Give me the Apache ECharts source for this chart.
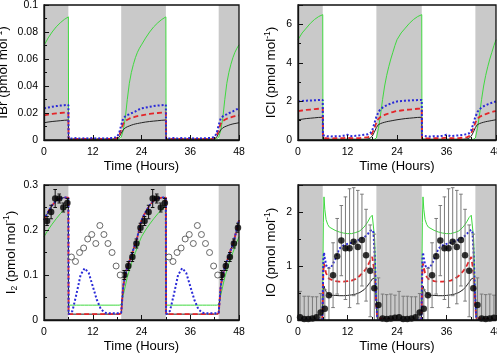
<!DOCTYPE html>
<html><head><meta charset="utf-8">
<script src="https://cdn.jsdelivr.net/npm/echarts@6/dist/echarts.min.js"></script>
<style>html,body{margin:0;padding:0;background:#fff}#c{width:497px;height:355px}</style>
</head><body><div id="c"></div>
<script>
// ---------- shared ----------
const nightBands = [[0, 6], [19, 30], [43, 48]];
const xTicks = [0, 12, 24, 36, 48];

// one-day model profile hours (panels IBr, ICl, I2), repeated each day
const hoursA = [0,1,2,3,4,5,6,6.05,7,8,9,10,11,12,13,14,15,16,17,17.5,18,18.5,19,19.5,20,20.5,21,21.5,22,22.5,23,23.5,24];

// IBr
const ibrGreen = [0.070,0.0755,0.080,0.0838,0.0868,0.0893,0.0912, 0.0008, 0.0008,0.0008,0.0008,0.0008,0.0008,0.0008,0.0008,0.0008,0.0008,0.0008, 0.0008,0.0008,0.0008,0.001, 0.002,0.007,0.016,0.030,0.042,0.050,0.056,0.061,0.065,0.068,0.0705];
const ibrBlack = [0.0128,0.0133,0.0137,0.0140,0.0143,0.0146,0.0148, 0.0005, 0.0005,0.0005,0.0005,0.0005,0.0005,0.0005,0.0005,0.0005,0.0005,0.0005, 0.0005,0.0006,0.001,0.002, 0.005,0.0075,0.009,0.0098,0.0104,0.011,0.0115,0.0119,0.0122,0.0125,0.0128];
const ibrRed = [0.0182,0.0188,0.0193,0.0197,0.0200,0.0203,0.0205, 0.0008, 0.0008,0.0008,0.0008,0.0008,0.0008,0.0008,0.0008,0.0008,0.0008,0.0008, 0.0008,0.001,0.0015,0.003, 0.008,0.012,0.014,0.015,0.0158,0.0164,0.0168,0.0173,0.0177,0.018,0.0182];
const ibrBlue = [0.0235,0.024,0.0246,0.0251,0.0255,0.0258,0.026, 0.0012, 0.0012,0.0015,0.0010,0.0014,0.0011,0.0016,0.0010,0.0013,0.0011,0.0014, 0.0014,0.0018,0.0025,0.005, 0.011,0.016,0.0175,0.0185,0.019,0.0198,0.0205,0.0212,0.022,0.0228,0.0235];

// ICl
const iclGreen = [5.2,5.55,5.8,6.05,6.25,6.4,6.5, 0.03, 0.03,0.03,0.03,0.03,0.03,0.03,0.03,0.03,0.03,0.03, 0.03,0.03,0.03,0.04, 0.1,0.6,1.3,2.1,2.8,3.35,3.8,4.2,4.55,4.9,5.2];
const iclBlack = [1.05,1.08,1.11,1.13,1.15,1.17,1.18, 0.05, 0.04,0.04,0.04,0.04,0.04,0.04,0.04,0.04,0.04,0.04, 0.06,0.1,0.2,0.4, 0.65,0.8,0.85,0.89,0.92,0.95,0.97,0.99,1.01,1.03,1.05];
const iclRed = [1.5,1.53,1.56,1.58,1.6,1.62,1.64, 0.1, 0.09,0.08,0.1,0.09,0.1,0.12,0.09,0.1,0.1,0.12, 0.15,0.2,0.35,0.6, 0.9,1.1,1.2,1.25,1.3,1.34,1.38,1.42,1.45,1.48,1.5];
const iclBlue = [2.0,2.02,2.04,2.05,2.06,2.07,2.08, 0.25, 0.2,0.18,0.2,0.19,0.22,0.27,0.2,0.22,0.24,0.27, 0.3,0.35,0.5,0.85, 1.2,1.45,1.6,1.68,1.75,1.8,1.85,1.89,1.93,1.97,2.0];

// I2
const i2Green = [0.185,0.2,0.213,0.225,0.236,0.246,0.255, 0.033, 0.033,0.033,0.033,0.033,0.033,0.033,0.033,0.033,0.033,0.033, 0.033,0.033,0.033,0.033, 0.034,0.055,0.075,0.095,0.11,0.125,0.138,0.15,0.162,0.174,0.185];
const i2Black = [0.222,0.24,0.255,0.265,0.27,0.272,0.272, 0.013, 0.013,0.013,0.013,0.013,0.013,0.013,0.013,0.013,0.013,0.013, 0.013,0.013,0.013,0.013, 0.015,0.075,0.1,0.118,0.13,0.143,0.157,0.17,0.185,0.204,0.222];
const i2Red = [0.222,0.24,0.255,0.265,0.27,0.272,0.272, 0.013, 0.013,0.013,0.013,0.013,0.013,0.013,0.013,0.013,0.013,0.013, 0.013,0.013,0.013,0.013, 0.015,0.075,0.1,0.118,0.13,0.143,0.157,0.17,0.185,0.204,0.222];
const i2Blue = [0.222,0.24,0.255,0.265,0.27,0.272,0.272, 0.013, 0.02,0.058,0.1,0.115,0.105,0.075,0.045,0.024,0.016,0.015, 0.015,0.015,0.015,0.015, 0.016,0.075,0.1,0.118,0.13,0.143,0.157,0.17,0.185,0.204,0.222];
// I2 observations
const i2NightHours = [0.75,1.75,2.75,3.75,4.75,5.75,19.75,20.75,21.75,22.75,23.75];
const i2NightObs = [0.22,0.24,0.27,0.27,0.25,0.26,0.10,0.12,0.14,0.17,0.205];
const i2NightErr = [0.01,0.015,0.02,0.01,0.01,0.01,0.01,0.01,0.01,0.01,0.01];
const i2DayHours = [6.75,7.75,8.75,9.75,10.75,11.75,12.75,13.75,14.75,15.75,16.75,17.75,18.75];
const i2DayObs = [0.14,0.13,0.15,0.16,0.18,0.19,0.17,0.21,0.19,0.17,0.15,0.12,0.10];

// IO
const hoursB = [0,5.9,6.0,6.15,6.3,6.5,6.8,7.2,7.6,8,9,10,11,12,13,14,15,16,16.5,17,17.5,18,18.3,18.6,18.9,19.2,19.5,24];
const ioGreen = [0.005,0.005,0.6,1.8,2.28,2.05,1.86,1.77,1.72,1.7,1.66,1.63,1.61,1.6,1.6,1.62,1.65,1.72,1.77,1.83,1.9,1.94,1.92,1.5,0.6,0.1,0.01,0.005];
const ioBlack = [0.002,0.002,0.2,0.55,0.63,0.58,0.53,0.49,0.47,0.46,0.455,0.45,0.45,0.455,0.465,0.48,0.51,0.56,0.6,0.65,0.7,0.76,0.79,0.78,0.45,0.05,0.005,0.002];
const ioRed = [0.003,0.003,0.3,0.9,1.05,0.97,0.87,0.8,0.76,0.74,0.72,0.71,0.71,0.72,0.73,0.76,0.82,0.9,0.95,1.02,1.1,1.17,1.15,0.85,0.35,0.04,0.005,0.003];
const ioBlue = [0.005,0.005,0.4,1.1,1.25,1.15,1.02,0.96,0.94,0.97,1.12,1.32,1.38,1.41,1.43,1.46,1.49,1.53,1.56,1.6,1.65,1.67,1.62,1.2,0.5,0.06,0.01,0.005];
// IO observations
const ioHours = [0.5,1.5,2.5,3.5,4.5,5.5,6.5,7.5,8.5,9.5,10.5,11.5,12.5,13.5,14.5,15.5,16.5,17.5,18.5,19.5,20.5,21.5,22.5,23.5];
const ioObs = [0.05,0.02,0.02,0.03,0.05,0.14,0.21,0.46,0.83,1.18,1.47,1.33,1.33,1.45,1.35,1.48,1.2,0.91,0.59,0.28,0.03,0.02,0.03,0.04];
const ioErr = [0.48,0.42,0.42,0.4,0.38,0.35,0.35,0.5,0.6,0.7,0.65,0.95,1.1,1.0,1.05,0.85,0.85,0.85,1.0,0.5,0.45,0.45,0.45,0.42];

// ---------- helpers ----------
const GREEN = '#3fd83f', BLACK = '#222', RED = '#e3262a', BLUE = '#2a2ad8', BAND = '#c9c9c9';
const FONT = 'Liberation Sans, Arial, Helvetica, sans-serif';

function daily(hours, vals) {
  const out = [];
  for (const d of [0, 24]) for (let i = 0; i < hours.length; i++) {
    const t = hours[i] + d; if (t <= 48) out.push([t, vals[i]]);
  }
  return out;
}
function dailyErr(hours, vals, errs) {
  const out = [];
  for (const d of [0, 24]) for (let i = 0; i < hours.length; i++) {
    const t = hours[i] + d; if (t <= 48) out.push([t, vals[i], vals[i] - errs[i], vals[i] + errs[i]]);
  }
  return out;
}
function bandSeries(gi) {
  return {type: 'line', xAxisIndex: gi, yAxisIndex: gi, data: [], silent: true, z: 1,
    markArea: {silent: true, itemStyle: {color: BAND}, data: nightBands.map(b => [{xAxis: b[0]}, {xAxis: b[1]}])}};
}
function lineSet(gi, hours, g, k, r, b) {
  const base = {type: 'line', xAxisIndex: gi, yAxisIndex: gi, showSymbol: false, symbol: 'none', silent: true};
  return [
    Object.assign({}, base, {data: daily(hours, g), lineStyle: {color: GREEN, width: 1}, z: 3}),
    Object.assign({}, base, {data: daily(hours, k), lineStyle: {color: BLACK, width: 1}, z: 4}),
    Object.assign({}, base, {data: daily(hours, r), lineStyle: {color: RED, width: 1.8, type: [5, 3]}, z: 5}),
    Object.assign({}, base, {data: daily(hours, b), lineStyle: {color: BLUE, width: 2, type: [2, 2]}, z: 6})
  ];
}
function errSeries(gi, data, color) {
  return {type: 'custom', xAxisIndex: gi, yAxisIndex: gi, data: data, z: 7, silent: true, clip: true,
    encode: {x: 0, y: 1},
    renderItem: function (params, api) {
      const x = api.value(0), lo = Math.max(api.value(2), 0), hi = api.value(3);
      const p1 = api.coord([x, lo]), p2 = api.coord([x, hi]);
      const cw = 1.8, st = {stroke: color, lineWidth: 1};
      const ch = [
        {type: 'line', shape: {x1: p1[0], y1: p1[1], x2: p2[0], y2: p2[1]}, style: st},
        {type: 'line', shape: {x1: p2[0] - cw, y1: p2[1], x2: p2[0] + cw, y2: p2[1]}, style: st}
      ];
      if (api.value(2) > 0) ch.push({type: 'line', shape: {x1: p1[0] - cw, y1: p1[1], x2: p1[0] + cw, y2: p1[1]}, style: st});
      return {type: 'group', children: ch};
    }};
}
function xAx(gi) {
  return {gridIndex: gi, type: 'value', min: 0, max: 48, interval: 12, z: 10,
    axisLine: {show: true, lineStyle: {color: '#111', width: 1.3}},
    axisTick: {show: true, inside: true, length: 5, lineStyle: {color: '#111'}},
    minorTick: {show: true, splitNumber: 2, length: 3, lineStyle: {color: '#111'}},
    splitLine: {show: false},
    axisLabel: {color: '#000', fontSize: 10.5, margin: 7, fontFamily: FONT},
    name: 'Time (Hours)', nameLocation: 'middle', nameGap: 20,
    nameTextStyle: {color: '#000', fontSize: 13, fontFamily: FONT}};
}
function yAx(gi, max, interval, name, gap, showMax) {
  return {gridIndex: gi, type: 'value', min: 0, max: max, interval: interval, z: 10,
    axisLine: {show: true, lineStyle: {color: '#111', width: 1.3}},
    axisTick: {show: true, inside: true, length: 5, lineStyle: {color: '#111'}},
    minorTick: {show: true, splitNumber: 2, length: 3, lineStyle: {color: '#111'}},
    splitLine: {show: false},
    axisLabel: {color: '#000', fontSize: 10.5, margin: 6, fontFamily: FONT, showMaxLabel: showMax},
    name: name, nameLocation: 'middle', nameGap: gap,
    nameTextStyle: {color: '#000', fontSize: 13.5, fontFamily: FONT, rich: richName}};
}
const richName = {
  t: {fontSize: 13.5, fontFamily: FONT, color: '#000', lineHeight: 17},
  s: {fontSize: 8.5, fontFamily: FONT, color: '#000', verticalAlign: 'top', lineHeight: 11},
  b: {fontSize: 8.5, fontFamily: FONT, color: '#000', verticalAlign: 'bottom', lineHeight: 10}
};

const gridBase = {show: true, borderColor: '#111', borderWidth: 1.3, backgroundColor: 'transparent', z: 10,
  containLabel: false, outerBoundsMode: 'none'};
const option = {
  animation: false,
  textStyle: {fontFamily: FONT},
  grid: [
    Object.assign({left: 44, top: 5, width: 195, height: 135}, gridBase),
    Object.assign({left: 298, top: 5, width: 198, height: 135}, gridBase),
    Object.assign({left: 44, top: 185, width: 195, height: 135}, gridBase),
    Object.assign({left: 298, top: 185, width: 198, height: 135}, gridBase)
  ],
  xAxis: [xAx(0), xAx(1), xAx(2), xAx(3)],
  yAxis: [
    yAx(0, 0.1, 0.02, '{t|IBr (pmol mol}{s|-1}{t|)}', 32, true),
    yAx(1, 7, 2, '{t|ICl (pmol mol}{s|-1}{t|)}', 18, false),
    yAx(2, 0.3, 0.1, '{t|I}{b|2}{t| (pmol mol}{s|-1}{t|)}', 24, true),
    yAx(3, 2.5, 1, '{t|IO (pmol mol}{s|-1}{t|)}', 18, false)
  ],
  series: [].concat(
    [bandSeries(0), bandSeries(1), bandSeries(2), bandSeries(3)],
    lineSet(0, hoursA, ibrGreen, ibrBlack, ibrRed, ibrBlue),
    lineSet(1, hoursA, iclGreen, iclBlack, iclRed, iclBlue),
    lineSet(2, hoursA, i2Green, i2Black, i2Red, i2Blue),
    lineSet(3, hoursB, ioGreen, ioBlack, ioRed, ioBlue),
    [
      errSeries(2, dailyErr(i2NightHours, i2NightObs, i2NightErr), '#111'),
      {type: 'scatter', xAxisIndex: 2, yAxisIndex: 2, data: daily(i2NightHours, i2NightObs), symbol: 'circle', symbolSize: 6.5,
        itemStyle: {color: '#000'}, z: 8, silent: true},
      {type: 'scatter', xAxisIndex: 2, yAxisIndex: 2, data: daily(i2DayHours, i2DayObs), symbol: 'circle', symbolSize: 6,
        itemStyle: {color: '#fff', borderColor: '#444', borderWidth: 1}, z: 8, silent: true},
      errSeries(3, dailyErr(ioHours, ioObs, ioErr), '#7a7a7a'),
      {type: 'scatter', xAxisIndex: 3, yAxisIndex: 3, data: daily(ioHours, ioObs), symbol: 'circle', symbolSize: 6.5,
        itemStyle: {color: '#000'}, z: 8, silent: true}
    ]
  )
};
const chart = echarts.init(document.getElementById('c'));
chart.setOption(option);
</script>
</body></html>
